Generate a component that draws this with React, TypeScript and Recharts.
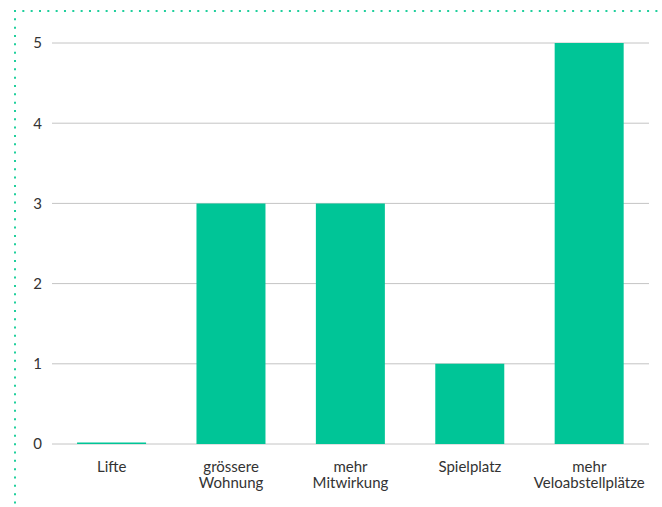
import React from "react";
import { BarChart, Bar, XAxis, YAxis, CartesianGrid } from "recharts";

const categories = ["Lifte", "grössere Wohnung", "mehr Mitwirkung", "Spielplatz", "mehr Veloabstellplätze"];
const values = [0, 3, 3, 1, 5];
const yTicks = [0, 1, 2, 3, 4, 5];

const data = categories.map((c, i) => ({ name: c, value: values[i] }));

const FONT = "Lato, 'Liberation Sans', sans-serif";
const GREEN = "#00c597";

const XTick = (props: any) => {
  const { x, y, payload } = props;
  const lines = String(payload.value).split(" ");
  return (
    <g>
      {lines.map((l: string, i: number) => (
        <text key={i} x={x} y={y + 20 + i * 16} textAnchor="middle" fill="#333" fontSize={15} fontFamily={FONT}>{l}</text>
      ))}
    </g>
  );
};

export default function App() {
  return (
    <div style={{ position: "absolute", left: 0, top: 0, width: 662, height: 507 }}>
      <BarChart width={662} height={507} data={data} margin={{ top: 43, right: 13, bottom: 33, left: 0 }} barCategoryGap="21%">
        <CartesianGrid vertical={false} stroke="#c4c4c4" />
        <XAxis dataKey="name" tickLine={false} axisLine={false} tick={<XTick />} interval={0} />
        <YAxis width={52} domain={[0, 5]} ticks={yTicks} axisLine={false} tickLine={false} tickMargin={4}
          tick={{ fill: "#333", fontSize: 15, fontFamily: FONT }} />
        <Bar dataKey="value" fill={GREEN} minPointSize={1.5} isAnimationActive={false} />
      </BarChart>
      <svg width={662} height={507} style={{ position: "absolute", left: 0, top: 0, pointerEvents: "none" }}>
        <line x1={14} y1={11} x2={662} y2={11} stroke="#1fcf9c" strokeWidth={2} strokeDasharray="2 6.33" />
        <line x1={15} y1={10} x2={15} y2={507} stroke="#1fcf9c" strokeWidth={2} strokeDasharray="2 6.33" />
      </svg>
    </div>
  );
}
